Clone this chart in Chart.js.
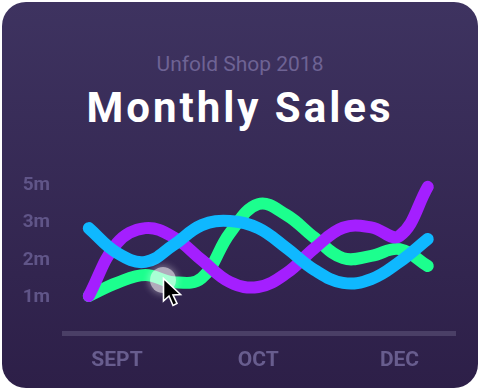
<!DOCTYPE html>
<html>
<head>
<meta charset="utf-8">
<title>Monthly Sales</title>
<script src="https://cdn.jsdelivr.net/npm/chart.js@4/dist/chart.umd.js"></script>
<style>
  html, body { margin: 0; padding: 0; background: #fff; font-family: Roboto, sans-serif; }
  #card {
    position: absolute; left: 2px; top: 2px; width: 476px; height: 386px;
    border-radius: 24px; overflow: hidden;
    background: linear-gradient(180deg, #3e3360 0%, #2d1f48 100%);
  }
  #wrap { position: absolute; left: 0; top: 0; width: 480px; height: 390px; }
  .sub, .ttl { position: absolute; left: 0; width: 480px; text-align: center; margin: 0; }
  .sub { top: 51px; font-size: 21px; font-weight: 400; line-height: 26px; color: #6e6394; }
  .ttl { top: 83px; font-size: 42px; font-weight: 700; line-height: 50px; letter-spacing: 3px; color: #fff; }
  #hover {
    position: absolute; left: 150px; top: 267px; width: 26px; height: 26px; border-radius: 50%;
    background: rgba(255,255,255,.62); box-shadow: 0 0 6px 2px rgba(255,255,255,.3);
  }
  #cursor { position: absolute; left: 162px; top: 277px; }
</style>
</head>
<body>
<div id="card"></div>
<div class="sub">Unfold Shop 2018</div>
<h1 class="ttl">Monthly Sales</h1>
<div id="wrap"><canvas id="grafik" width="480" height="390"></canvas></div>
<div id="hover"></div>
<svg id="cursor" width="22" height="32" viewBox="0 0 22 32">
  <path d="M1.5 1.5 L1.5 24 L7 19 L11 28.5 L15 26.5 L11 18 L18.5 17.5 Z" fill="#000" stroke="#fff" stroke-width="1.6"/>
</svg>
<script>
// ===== data =====
const categories = ['', '', 'SEPT', '', '', '', '', 'OCT', '', '', '', '', 'DEC', '', ''];
// axis labels are evenly spaced even though they read 1,2,3,5, so values are axis positions
const yTicks = ['', '1m', '2m', '3m', '5m', ''];
const purple = [null, 1.0, 2.41, 2.81, 2.57, 1.96, 1.37, 1.24, 1.61, 2.28, 2.82, 2.83, 2.6, 3.91, null];
const green  = [null, 1.0, 1.35, 1.56, 1.37, 1.48, 2.68, 3.45, 3.16, 2.55, 2.01, 2.07, 2.25, 1.8, null];
const blue   = [null, 2.81, 2.15, 1.91, 2.36, 2.89, 3.0, 2.81, 2.28, 1.69, 1.35, 1.45, 1.91, 2.52, null];

const line = (data, color) => ({
  data,
  borderColor: color,
  borderWidth: 12,
  borderCapStyle: 'round',
  borderJoinStyle: 'round',
  tension: 0.4,
  pointRadius: 0,
  fill: false,
});

// baseline bar stops a little short of the plot's left edge
const axisBar = {
  id: 'axisBar',
  beforeDatasetsDraw(chart) {
    const { ctx, chartArea: a } = chart;
    ctx.save();
    ctx.fillStyle = '#4a3f66';
    ctx.fillRect(a.left + 1.5, a.bottom - 2.5, a.right - a.left - 1.5, 5);
    ctx.restore();
  }
};

// ===== chart =====
new Chart(document.getElementById('grafik').getContext('2d'), {
  type: 'line',
  data: {
    labels: categories,
    // first dataset is painted on top
    datasets: [line(blue, '#0fb8ff'), line(purple, '#a41fff'), line(green, '#1cff8e')]
  },
  plugins: [axisBar],
  options: {
    responsive: false,
    animation: false,
    events: [],
    layout: { padding: { top: 146, right: 24, left: 0, bottom: 0 } },
    plugins: { legend: { display: false }, tooltip: { enabled: false } },
    scales: {
      x: {
        offset: false,
        grid: { display: false, drawTicks: false },
        border: { display: false },
        ticks: {
          autoSkip: false, maxRotation: 0, padding: 15,
          color: '#685d8e',
          font: { family: 'Roboto', size: 21, weight: '700' }
        },
        afterFit: s => { s.height = 56.5; }
      },
      y: {
        min: 0, max: 5,
        grid: { display: false, drawTicks: false },
        border: { display: false },
        ticks: {
          stepSize: 1, padding: 10.5, labelOffset: 1.5,
          color: '#605588',
          font: { family: 'Roboto', size: 19, weight: '700' },
          callback: v => yTicks[v]
        },
        afterFit: s => { s.width = 60.5; }
      }
    }
  }
});
</script>
</body>
</html>
